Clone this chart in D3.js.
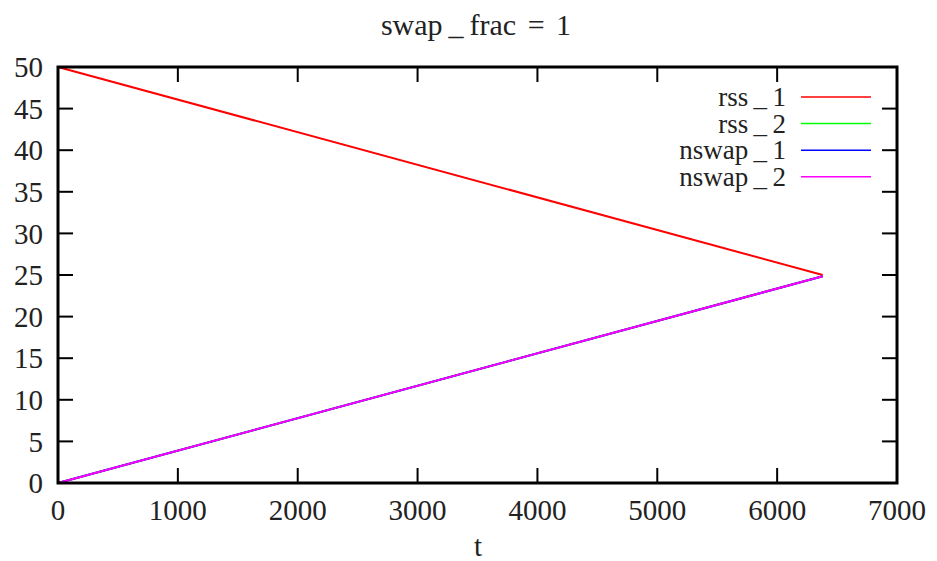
<!DOCTYPE html>
<html>
<head>
<meta charset="utf-8">
<script src="https://cdn.jsdelivr.net/npm/d3@7"></script>
<style>
  body { margin: 0; background: #fff; }
  svg text { font-family: "Liberation Serif", "DejaVu Serif", serif; fill: #222; }
</style>
</head>
<body>
<div id="chart"></div>
<script>
// time samples and the four traces
var tValues = [0, 6380];
var rss1 = [50, 25];
var rss2 = [0, 24.85];
var nswap1 = [0, 24.85];
var nswap2 = [0, 24.85];

var seriesNames = ["rss_1", "rss_2", "nswap_1", "nswap_2"];
var seriesColors = ["#ff0000", "#00ff00", "#0000ff", "#ff00ff"];

var xTicks = [0, 1000, 2000, 3000, 4000, 5000, 6000, 7000];
var yTicks = [0, 5, 10, 15, 20, 25, 30, 35, 40, 45, 50];

var width = 937, height = 561;
var margin = { top: 67, right: 40, bottom: 78, left: 58 };
var w = width - margin.left - margin.right,
  h = height - margin.top - margin.bottom;

var svg = d3.select("#chart").append("svg")
  .attr("width", width)
  .attr("height", height);

var g = svg.append("g")
  .attr("transform", "translate(" + margin.left + "," + margin.top + ")");

var x = d3.scaleLinear().domain([0, 7000]).range([0, w]);
var y = d3.scaleLinear().domain([0, 50]).range([h, 0]);

var tickLen = 15;

// TeX-style escaped underscore: thin spaces either side
function texName(str) {
  return str.split("_").join("\u2009_\u2009");
}

// ticks on all four sides, pointing inward (gnuplot mirror style)
var ticks = g.append("g").attr("stroke", "#000").attr("stroke-width", 2);
xTicks.forEach(function (v) {
  ticks.append("line").attr("x1", x(v)).attr("x2", x(v)).attr("y1", h).attr("y2", h - tickLen);
  ticks.append("line").attr("x1", x(v)).attr("x2", x(v)).attr("y1", 0).attr("y2", tickLen);
});
yTicks.forEach(function (v) {
  ticks.append("line").attr("x1", 0).attr("x2", tickLen).attr("y1", y(v)).attr("y2", y(v));
  ticks.append("line").attr("x1", w).attr("x2", w - tickLen).attr("y1", y(v)).attr("y2", y(v));
});

// tick labels
g.append("g").selectAll("text").data(xTicks).join("text")
  .attr("x", function (d) { return x(d); })
  .attr("y", h + 37)
  .attr("text-anchor", "middle")
  .attr("font-size", 29)
  .text(function (d) { return d; });

g.append("g").selectAll("text").data(yTicks).join("text")
  .attr("x", -15)
  .attr("y", function (d) { return y(d); })
  .attr("dy", "0.35em")
  .attr("text-anchor", "end")
  .attr("font-size", 29)
  .text(function (d) { return d; });

// data lines
var allSeries = [rss1, rss2, nswap1, nswap2];
var line = d3.line()
  .x(function (d, i) { return x(tValues[i]); })
  .y(function (d) { return y(d); });

g.append("g").selectAll("path").data(allSeries).join("path")
  .attr("d", line)
  .attr("fill", "none")
  .attr("stroke", function (d, i) { return seriesColors[i]; })
  .attr("stroke-width", 2);

// border
g.append("rect")
  .attr("width", w).attr("height", h)
  .attr("fill", "none")
  .attr("stroke", "#000")
  .attr("stroke-width", 3);

// legend
var legend = g.append("g").attr("transform", "translate(" + (786 - margin.left) + "," + (97 - margin.top) + ")");
seriesNames.forEach(function (name, i) {
  var row = legend.append("g").attr("transform", "translate(0," + i * 26.6 + ")");
  row.append("text")
    .attr("x", 0).attr("y", 0)
    .attr("dy", "0.33em")
    .attr("text-anchor", "end")
    .attr("font-size", 27)
    .text(texName(name));
  row.append("line")
    .attr("x1", 15).attr("x2", 85)
    .attr("y1", 0).attr("y2", 0)
    .attr("stroke", seriesColors[i])
    .attr("stroke-width", 1.5);
});

// title and axis label
svg.append("text")
  .attr("x", 476).attr("y", 35)
  .attr("text-anchor", "middle")
  .attr("font-size", 30)
  .attr("word-spacing", 4)
  .text(texName("swap_frac") + " = 1");

svg.append("text")
  .attr("x", 478).attr("y", 556)
  .attr("text-anchor", "middle")
  .attr("font-size", 29)
  .text("t");
</script>
</body>
</html>
